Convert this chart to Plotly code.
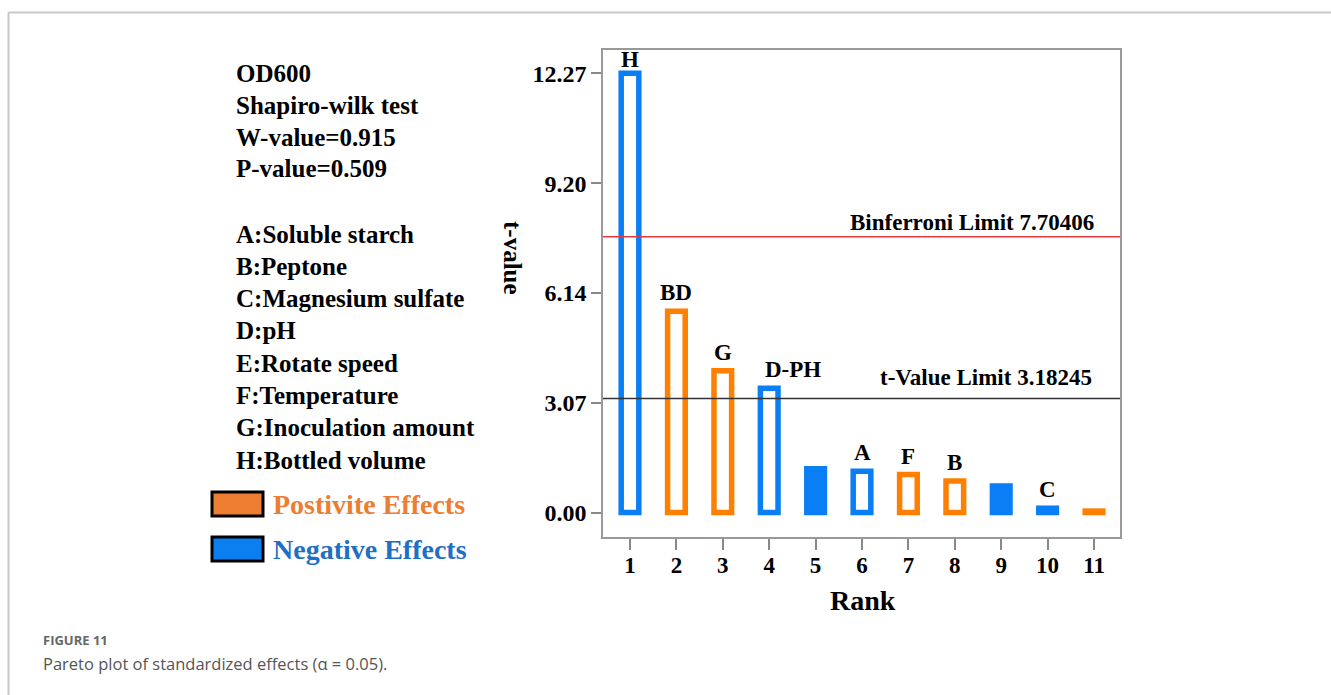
import plotly.graph_objects as go

# ---------------- data ----------------
ranks = [1, 2, 3, 4, 5, 6, 7, 8, 9, 10, 11]
t_values = [12.27, 5.62, 3.96, 3.47, 1.22, 1.15, 1.06, 0.88, 0.74, 0.12, 0.04]
bar_labels = ["H", "BD", "G", "D-PH", "", "A", "F", "B", "", "C", ""]
effect_sign = ["neg", "pos", "pos", "neg", "neg", "neg", "pos", "pos", "neg", "neg", "pos"]
filled = [False, False, False, False, True, False, False, False, True, False, True]
y_ticks = [0.00, 3.07, 6.14, 9.20, 12.27]
y_tick_text = ["0.00", "3.07", "6.14", "9.20", "12.27"]
bonferroni_limit = 7.70406
t_value_limit = 3.18245
info_lines = ["OD600", "Shapiro-wilk test", "W-value=0.915", "P-value=0.509"]
factor_lines = ["A:Soluble starch", "B:Peptone", "C:Magnesium sulfate", "D:pH",
                "E:Rotate speed", "F:Temperature", "G:Inoculation amount", "H:Bottled volume"]
legend_items = ["Postivite Effects", "Negative Effects"]

# ---------------- styles ----------------
W, H = 1331, 695
BLUE = "#0a7ff5"
ORANGE = "#ff7f00"
SERIF = "Liberation Serif, Times New Roman, serif"

def px_x(x):
    return x / W

def px_y(y):
    return 1 - y / H

line_colors = [BLUE if s == "neg" else ORANGE for s in effect_sign]
fill_colors = [lc if f else "white" for lc, f in zip(line_colors, filled)]

fig = go.Figure()
fig.add_trace(go.Bar(
    x=ranks, y=t_values, width=0.38,
    marker=dict(color=fill_colors, line=dict(color=line_colors, width=5.5)),
    hoverinfo="x+y", showlegend=False,
))

# plot area geometry
x_left, x_right = 603, 1120
y_top, y_bottom = 50, 537
x_range = [0.418, 11.56]
y_range = [-0.684, 12.92]

fig.update_layout(
    width=W, height=H,
    margin=dict(l=0, r=0, t=0, b=0),
    paper_bgcolor="white", plot_bgcolor="white",
    xaxis=dict(
        domain=[px_x(x_left), px_x(x_right)], range=x_range,
        tickvals=ranks, ticktext=[str(r) for r in ranks],
        ticks="outside", ticklen=11, tickwidth=1.5, tickcolor="#888",
        ticklabelstandoff=-4,
        showline=True, linecolor="#999", linewidth=1.5, mirror=True,
        showgrid=False, zeroline=False,
        tickfont=dict(family=SERIF, size=23, color="black", weight="bold"),
    ),
    yaxis=dict(
        domain=[px_y(y_bottom), px_y(y_top)], range=y_range,
        tickvals=y_ticks, ticktext=y_tick_text,
        ticks="outside", ticklen=10, tickwidth=1.5, tickcolor="#888",
        showline=True, linecolor="#999", linewidth=1.5, mirror=True,
        showgrid=False, zeroline=False,
        tickfont=dict(family=SERIF, size=24, color="black", weight="bold"),
    ),
)

# limit lines
fig.add_shape(type="line", xref="paper", yref="y", x0=px_x(x_left), x1=px_x(x_right),
              y0=bonferroni_limit, y1=bonferroni_limit, line=dict(color="#e8383d", width=1.5), layer="above")
fig.add_shape(type="line", xref="paper", yref="y", x0=px_x(x_left), x1=px_x(x_right),
              y0=t_value_limit, y1=t_value_limit, line=dict(color="#333333", width=1.5), layer="above")
fig.add_annotation(xref="paper", yref="y", x=px_x(1096), y=bonferroni_limit,
                   text=f"Binferroni Limit {bonferroni_limit}", showarrow=False,
                   xanchor="right", yanchor="bottom", yshift=0,
                   font=dict(family=SERIF, size=23, color="black", weight="bold"))
fig.add_annotation(xref="paper", yref="y", x=px_x(1094), y=t_value_limit,
                   text=f"t-Value Limit {t_value_limit}", showarrow=False,
                   xanchor="right", yanchor="bottom", yshift=7,
                   font=dict(family=SERIF, size=23, color="black", weight="bold"))

# bar labels
for r, v, lab in zip(ranks, t_values, bar_labels):
    if not lab:
        continue
    fig.add_annotation(x=r, y=v, text=lab, showarrow=False, yanchor="bottom",
                       yshift=4 if lab != "H" else -1, xshift=24 if lab == "D-PH" else 0,
                       font=dict(family=SERIF, size=23, color="black", weight="bold"))

# axis titles
fig.add_annotation(xref="paper", yref="paper", x=px_x(513), y=px_y(258), text="t-value",
                   textangle=90, showarrow=False, xanchor="center", yanchor="middle",
                   font=dict(family=SERIF, size=25, color="black", weight="bold"))
fig.add_annotation(xref="paper", yref="paper", x=px_x(863), y=px_y(600), text="Rank",
                   showarrow=False, xanchor="center", yanchor="middle",
                   font=dict(family=SERIF, size=28, color="black", weight="bold"))

# left text block
for i, t in enumerate(info_lines):
    fig.add_annotation(xref="paper", yref="paper", x=px_x(234), y=px_y(74 + 31.5 * i), text=t,
                       showarrow=False, xanchor="left", yanchor="middle",
                       font=dict(family=SERIF, size=25, color="black", weight="bold"))
for i, t in enumerate(factor_lines):
    fig.add_annotation(xref="paper", yref="paper", x=px_x(234), y=px_y(234 + 32.3 * i), text=t,
                       showarrow=False, xanchor="left", yanchor="middle",
                       font=dict(family=SERIF, size=25, color="black", weight="bold"))

# legend boxes
legend_fill = ["#ed7d31", "#0b7ff0"]
legend_text_color = ["#ed7d31", "#1f6fc4"]
for i, (t, fc, tc) in enumerate(zip(legend_items, legend_fill, legend_text_color)):
    yc = 504 + 45 * i
    fig.add_shape(type="rect", xref="paper", yref="paper",
                  x0=px_x(212), x1=px_x(263), y0=px_y(yc - 12), y1=px_y(yc + 12),
                  fillcolor=fc, line=dict(color="black", width=3))
    fig.add_annotation(xref="paper", yref="paper", x=px_x(271), y=px_y(yc), text=t,
                       showarrow=False, xanchor="left", yanchor="middle",
                       font=dict(family=SERIF, size=28, color=tc, weight="bold"))

# outer frame lines
fig.add_shape(type="line", xref="paper", yref="paper", x0=px_x(8.5), x1=1, y0=px_y(12.5), y1=px_y(12.5),
              line=dict(color="#c8c8c8", width=2))
fig.add_shape(type="line", xref="paper", yref="paper", x0=px_x(8.5), x1=px_x(8.5), y0=px_y(12.5), y1=0,
              line=dict(color="#c8c8c8", width=2))

# caption
fig.add_annotation(xref="paper", yref="paper", x=px_x(41), y=px_y(640), text="FIGURE 11",
                   showarrow=False, xanchor="left", yanchor="middle",
                   font=dict(family="Open Sans, sans-serif", size=13, color="#666666", weight="bold"))
fig.add_annotation(xref="paper", yref="paper", x=px_x(41), y=px_y(663),
                   text="Pareto plot of standardized effects (α = 0.05).",
                   showarrow=False, xanchor="left", yanchor="middle",
                   font=dict(family="Open Sans, sans-serif", size=16.5, color="#555555"))

fig.write_html("out.html")
